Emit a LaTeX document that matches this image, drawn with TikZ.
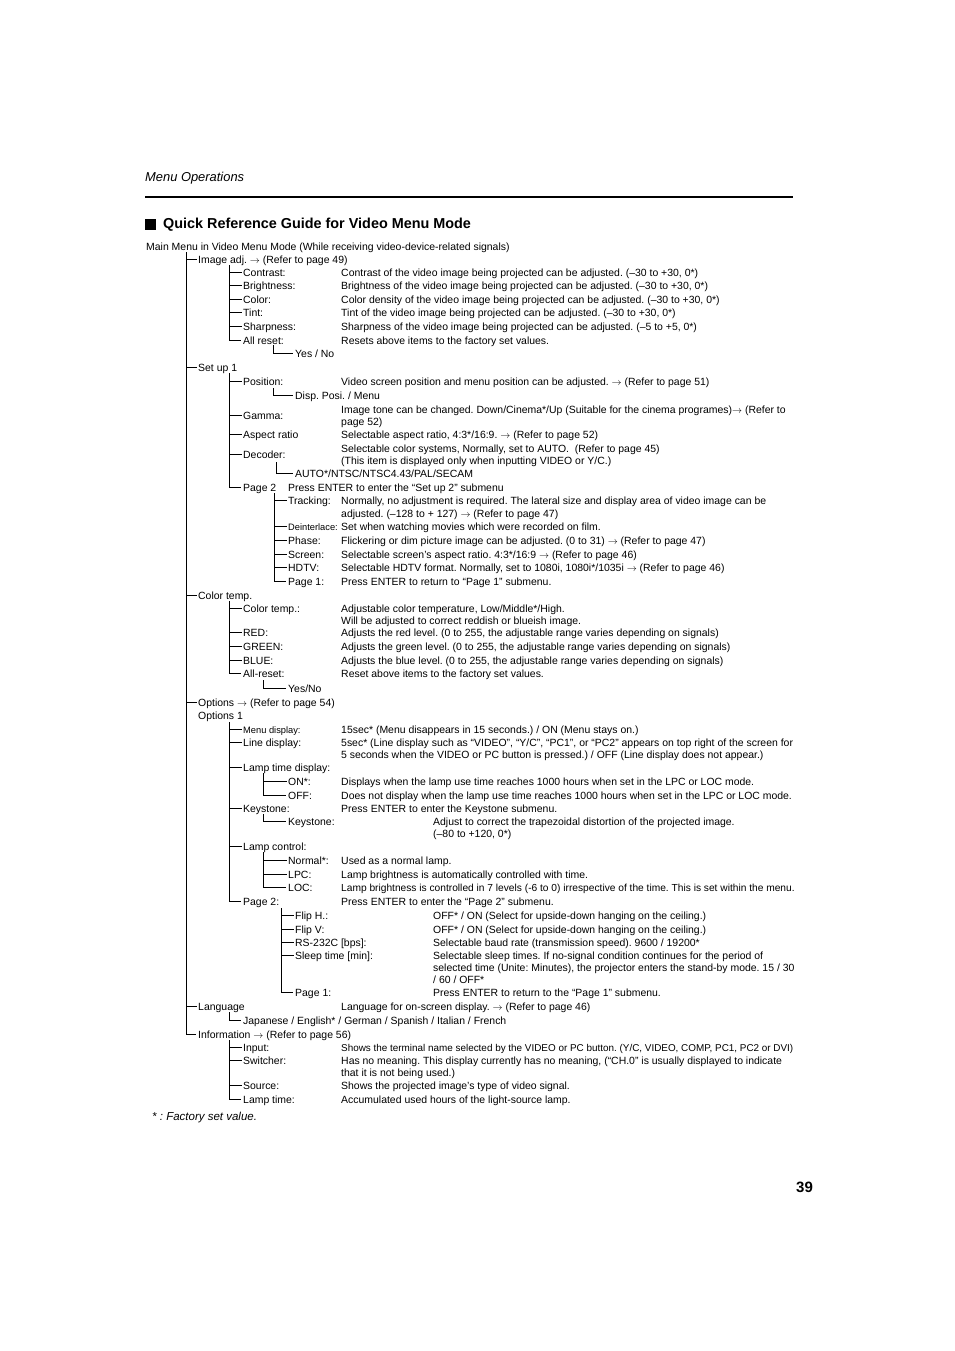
\documentclass[tikz,border=0pt]{standalone}
\usepackage{fontspec}
\setmainfont{Liberation Sans}
\usetikzlibrary{positioning}
\frenchspacing
\newcommand{\bodyfont}{\fontsize{10.45}{12}\selectfont}
\newcommand{\minifont}{\fontsize{9.3}{11}\selectfont}
\newcommand{\ra}{$\rightarrow$}
\tikzset{
    item/.style={
        anchor=west,
        inner xsep=1pt,
        inner ysep=0pt,
        text height=8.5pt,
        text depth=0.5pt,
        font=\bodyfont
    },
    miniitem/.style={
        item,
        font=\minifont
    },
    tree/.style={
        draw,
        line width=0.7pt,
        shorten >=1.5pt
    }
}
\begin{document}
\begin{tikzpicture}[x=1pt, y=-1pt]
    \useasboundingbox (0,0) rectangle (954,1351);

    % Page head
    \node (head) [item, font=\fontsize{12.9}{15}\selectfont\itshape] at (144,178) {Menu Operations};
    \draw [line width=1.6pt] (145,197) -- (793,197);
    \fill (145,219) rectangle (156,230);
    \node (title) [item, font=\fontsize{14.4}{17}\selectfont\bfseries] at (162,225) {Quick Reference Guide for Video Menu Mode};
    \node (main) [item] at (145,246) {Main Menu in Video Menu Mode (While receiving video-device-related signals)};

    % Main menu items
    \node (img) [item] at (197,259) {Image adj. \ra{} (Refer to page 49)};
    \node (su1) [item] at (197,367) {Set up 1};
    \node (ct) [item] at (197,595) {Color temp.};
    \node (opt) [item] at (197,702) {Options \ra{} (Refer to page 54)};
    \node (opt1) [item] at (197,715) {Options 1};
    \node (lang) [item] at (197,1006) {Language};
    \node (info) [item] at (197,1034) {Information \ra{} (Refer to page 56)};

    % Image adj.
    \node (con) [item] at (242,272) {Contrast:};
    \node (bri) [item] at (242,285) {Brightness:};
    \node (col) [item] at (242,299) {Color:};
    \node (tint) [item] at (242,312) {Tint:};
    \node (shp) [item] at (242,326) {Sharpness:};
    \node (ires) [item] at (242,340) {All reset:};
    \node (iyes) [item] at (294,353) {Yes / No};
    \node (dcon) [item] at (340,272) {Contrast of the video image being projected can be adjusted. (–30 to +30, 0*)};
    \node (dbri) [item] at (340,285) {Brightness of the video image being projected can be adjusted. (–30 to +30, 0*)};
    \node (dcol) [item] at (340,299) {Color density of the video image being projected can be adjusted. (–30 to +30, 0*)};
    \node (dtint) [item] at (340,312) {Tint of the video image being projected can be adjusted. (–30 to +30, 0*)};
    \node (dshp) [item] at (340,326) {Sharpness of the video image being projected can be adjusted. (–5 to +5, 0*)};
    \node (dires) [item] at (340,340) {Resets above items to the factory set values.};

    % Set up 1
    \node (pos) [item] at (242,381) {Position:};
    \node (disp) [item] at (294,395) {Disp. Posi. / Menu};
    \node (gam) [item] at (242,415) {Gamma:};
    \node (asp) [item] at (242,434) {Aspect ratio};
    \node (dec) [item] at (242,454) {Decoder:};
    \node (auto) [item] at (294,473) {AUTO*/NTSC/NTSC4.43/PAL/SECAM};
    \node (pg2) [item] at (242,487) {Page 2};
    \node (dpos) [item] at (340,381) {Video screen position and menu position can be adjusted. \ra{} (Refer to page 51)};
    \node (dgam) [item] at (340,409) {Image tone can be changed. Down/Cinema*/Up (Suitable for the cinema programes)\ra{} (Refer to};
    \node (dgamb) [item] at (340,421) {page 52)};
    \node (dasp) [item] at (340,434) {Selectable aspect ratio, 4:3*/16:9. \ra{} (Refer to page 52)};
    \node (ddec) [item] at (340,448) {Selectable color systems, Normally, set to AUTO.\ \ (Refer to page 45)};
    \node (ddecb) [item] at (340,460) {(This item is displayed only when inputting VIDEO or Y/C.)};
    \node (dpg2) [item] at (287,487) {Press ENTER to enter the “Set up 2” submenu};

    % Set up 2
    \node (trk) [item] at (287,500) {Tracking:};
    \node (dei) [miniitem] at (287,526) {Deinterlace:};
    \node (pha) [item] at (287,540) {Phase:};
    \node (scr) [item] at (287,554) {Screen:};
    \node (hdtv) [item] at (287,567) {HDTV:};
    \node (pg1) [item] at (287,581) {Page 1:};
    \node (dtrk) [item] at (340,500) {Normally, no adjustment is required. The lateral size and display area of video image can be};
    \node (dtrkb) [item] at (340,513) {adjusted. (–128 to + 127) \ra{} (Refer to page 47)};
    \node (ddei) [item] at (340,526) {Set when watching movies which were recorded on film.};
    \node (dpha) [item] at (340,540) {Flickering or dim picture image can be adjusted. (0 to 31) \ra{} (Refer to page 47)};
    \node (dscr) [item] at (340,554) {Selectable screen’s aspect ratio. 4:3*/16:9 \ra{} (Refer to page 46)};
    \node (dhdtv) [item] at (340,567) {Selectable HDTV format. Normally, set to 1080i, 1080i*/1035i \ra{} (Refer to page 46)};
    \node (dpg1) [item] at (340,581) {Press ENTER to return to “Page 1” submenu.};

    % Color temp.
    \node (cti) [item] at (242,608) {Color temp.:};
    \node (red) [item] at (242,632) {RED:};
    \node (grn) [item] at (242,646) {GREEN:};
    \node (blu) [item] at (242,660) {BLUE:};
    \node (cres) [item] at (242,673) {All-reset:};
    \node (cyes) [item] at (287,688) {Yes/No};
    \node (dcti) [item] at (340,608) {Adjustable color temperature, Low/Middle*/High.};
    \node (dctib) [item] at (340,620) {Will be adjusted to correct reddish or blueish image.};
    \node (dred) [item] at (340,632) {Adjusts the red level. (0 to 255, the adjustable range varies depending on signals)};
    \node (dgrn) [item] at (340,646) {Adjusts the green level. (0 to 255, the adjustable range varies depending on signals)};
    \node (dblu) [item] at (340,660) {Adjusts the blue level. (0 to 255, the adjustable range varies depending on signals)};
    \node (dcres) [item] at (340,673) {Reset above items to the factory set values.};

    % Options 1
    \node (menu) [miniitem] at (242,729) {Menu display:};
    \node (line) [item] at (242,742) {Line display:};
    \node (ltd) [item] at (242,767) {Lamp time display:};
    \node (on) [item] at (287,781) {ON*:};
    \node (off) [item] at (287,795) {OFF:};
    \node (key) [item] at (242,808) {Keystone:};
    \node (keyb) [item] at (287,821) {Keystone:};
    \node (lctl) [item] at (242,846) {Lamp control:};
    \node (nrm) [item] at (287,860) {Normal*:};
    \node (lpc) [item] at (287,874) {LPC:};
    \node (loc) [item] at (287,887) {LOC:};
    \node (opg2) [item] at (242,901) {Page 2:};
    \node (dmenu) [item] at (340,729) {15sec* (Menu disappears in 15 seconds.) / ON (Menu stays on.)};
    \node (dline) [item] at (340,742) {5sec* (Line display such as “VIDEO”, “Y/C”, “PC1”, or “PC2” appears on top right of the screen for};
    \node (dlineb) [item] at (340,754) {5 seconds when the VIDEO or PC button is pressed.) / OFF (Line display does not appear.)};
    \node (don) [item] at (340,781) {Displays when the lamp use time reaches 1000 hours when set in the LPC or LOC mode.};
    \node (doff) [item] at (340,795) {Does not display when the lamp use time reaches 1000 hours when set in the LPC or LOC mode.};
    \node (dkey) [item] at (340,808) {Press ENTER to enter the Keystone submenu.};
    \node (dkeyb) [item] at (432,821) {Adjust to correct the trapezoidal distortion of the projected image.};
    \node (dkeyc) [item] at (432,833) {(–80 to +120, 0*)};
    \node (dnrm) [item] at (340,860) {Used as a normal lamp.};
    \node (dlpc) [item] at (340,874) {Lamp brightness is automatically controlled with time.};
    \node (dloc) [item, font=\fontsize{10.2}{12}\selectfont] at (340,887) {Lamp brightness is controlled in 7 levels (-6 to 0) irrespective of the time. This is set within the menu.};
    \node (dopg2) [item] at (340,901) {Press ENTER to enter the “Page 2” submenu.};

    % Options 2
    \node (fh) [item] at (294,915) {Flip H.:};
    \node (fv) [item] at (294,929) {Flip V:};
    \node (rs) [item] at (294,942) {RS-232C [bps]:};
    \node (slp) [item] at (294,955) {Sleep time [min]:};
    \node (opg1) [item] at (294,992) {Page 1:};
    \node (dfh) [item] at (432,915) {OFF* / ON (Select for upside-down hanging on the ceiling.)};
    \node (dfv) [item] at (432,929) {OFF* / ON (Select for upside-down hanging on the ceiling.)};
    \node (drs) [item] at (432,942) {Selectable baud rate (transmission speed). 9600 / 19200*};
    \node (dslp) [item] at (432,955) {Selectable sleep times. If no-signal condition continues for the period of};
    \node (dslpb) [item] at (432,967) {selected time (Unite: Minutes), the projector enters the stand-by mode. 15 / 30};
    \node (dslpc) [item] at (432,979) {/ 60 / OFF*};
    \node (dopg1) [item] at (432,992) {Press ENTER to return to the “Page 1” submenu.};

    % Language
    \node (jap) [item] at (242,1020) {Japanese / English* / German / Spanish / Italian / French};
    \node (dlang) [item] at (340,1006) {Language for on-screen display. \ra{} (Refer to page 46)};

    % Information
    \node (inp) [item] at (242,1047) {Input:};
    \node (swi) [item] at (242,1060) {Switcher:};
    \node (src) [item] at (242,1085) {Source:};
    \node (lamp) [item] at (242,1099) {Lamp time:};
    \node (dinp) [item, font=\fontsize{9.9}{12}\selectfont] at (340,1047) {Shows the terminal name selected by the VIDEO or PC button. (Y/C, VIDEO, COMP, PC1, PC2 or DVI)};
    \node (dswi) [item] at (340,1060) {Has no meaning. This display currently has no meaning, (“CH.0” is usually displayed to indicate};
    \node (dswib) [item] at (340,1072) {that it is not being used.)};
    \node (dsrc) [item] at (340,1085) {Shows the projected image’s type of video signal.};
    \node (dlamp) [item] at (340,1099) {Accumulated used hours of the light-source lamp.};

    % Foot
    \node (note) [item, font=\fontsize{11.5}{13}\selectfont\itshape] at (151,1116) {* : Factory set value.};
    \node (pnum) [item, font=\fontsize{15}{18}\selectfont\bfseries] at (795,1188) {39};

    % Tree
    \coordinate (trunk) at (186,252);
    \coordinate (vimg) at (229,265);
    \coordinate (vires) at (273,345);
    \coordinate (vsu1) at (229,373);
    \coordinate (vpos) at (273,388);
    \coordinate (vdec) at (276,462);
    \coordinate (vpg2) at (274,493);
    \coordinate (vct) at (229,601);
    \coordinate (vcres) at (263,680);
    \coordinate (vopt) at (229,722);
    \coordinate (vltd) at (263,773);
    \coordinate (vkey) at (263,814);
    \coordinate (vlctl) at (263,852);
    \coordinate (vopg2) at (281,908);
    \coordinate (vlang) at (229,1012);
    \coordinate (vinfo) at (229,1040);

    \draw [tree] (trunk) |- (img.west) (trunk) |- (su1.west) (trunk) |- (ct.west)
        (trunk) |- (opt.west) (trunk) |- (lang.west) (trunk) |- (info.west);
    \draw [tree] (vimg) |- (con.west) (vimg) |- (bri.west) (vimg) |- (col.west)
        (vimg) |- (tint.west) (vimg) |- (shp.west) (vimg) |- (ires.west);
    \draw [tree] (vires) |- (iyes.west);
    \draw [tree] (vsu1) |- (pos.west) (vsu1) |- (gam.west) (vsu1) |- (asp.west)
        (vsu1) |- (dec.west) (vsu1) |- (pg2.west);
    \draw [tree] (vpos) |- (disp.west);
    \draw [tree] (vdec) |- (auto.west);
    \draw [tree] (vpg2) |- (trk.west) (vpg2) |- (dei.west) (vpg2) |- (pha.west)
        (vpg2) |- (scr.west) (vpg2) |- (hdtv.west) (vpg2) |- (pg1.west);
    \draw [tree] (vct) |- (cti.west) (vct) |- (red.west) (vct) |- (grn.west)
        (vct) |- (blu.west) (vct) |- (cres.west);
    \draw [tree] (vcres) |- (cyes.west);
    \draw [tree] (vopt) |- (menu.west) (vopt) |- (line.west) (vopt) |- (ltd.west)
        (vopt) |- (key.west) (vopt) |- (lctl.west) (vopt) |- (opg2.west);
    \draw [tree] (vltd) |- (on.west) (vltd) |- (off.west);
    \draw [tree] (vkey) |- (keyb.west);
    \draw [tree] (vlctl) |- (nrm.west) (vlctl) |- (lpc.west) (vlctl) |- (loc.west);
    \draw [tree] (vopg2) |- (fh.west) (vopg2) |- (fv.west) (vopg2) |- (rs.west)
        (vopg2) |- (slp.west) (vopg2) |- (opg1.west);
    \draw [tree] (vlang) |- (jap.west);
    \draw [tree] (vinfo) |- (inp.west) (vinfo) |- (swi.west) (vinfo) |- (src.west)
        (vinfo) |- (lamp.west);

\end{tikzpicture}
\end{document}
